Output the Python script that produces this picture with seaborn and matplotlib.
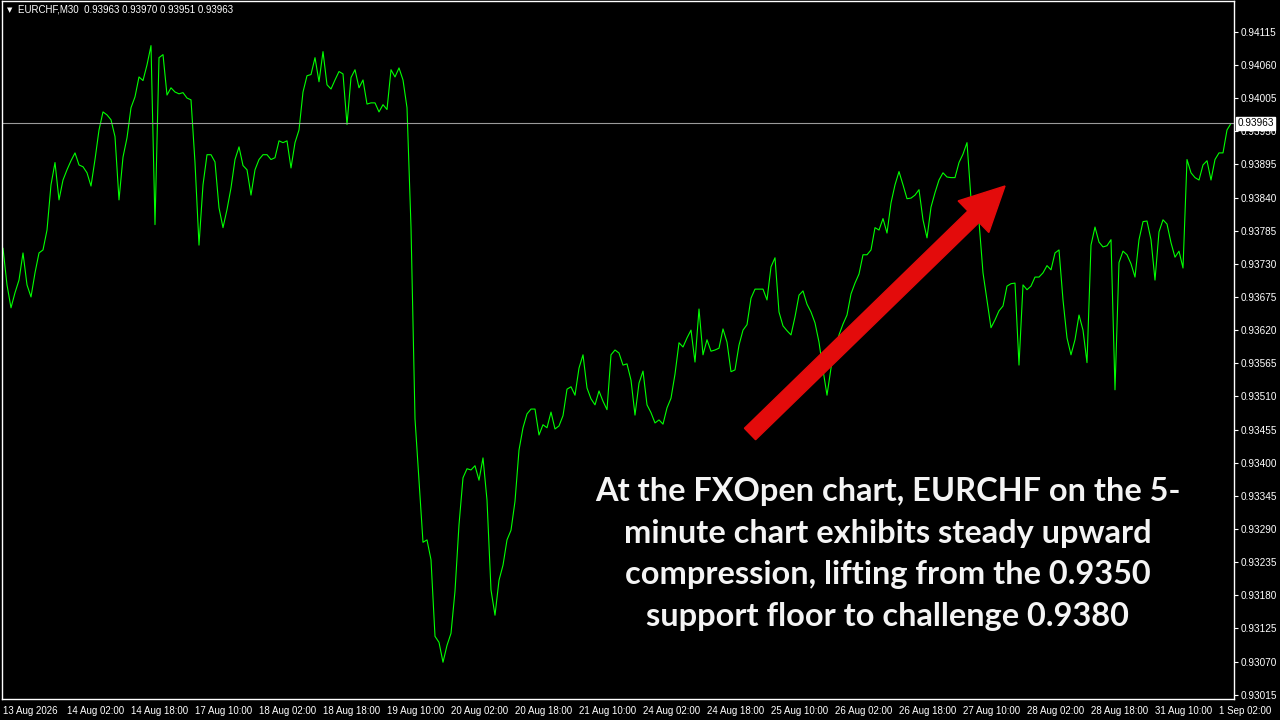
import matplotlib
matplotlib.use("Agg")
import matplotlib.pyplot as plt
from matplotlib.patches import FancyArrow
import pandas as pd
import seaborn as sns

# EURCHF M30 closes, one reading every 2 bars
close = [
    0.93756, 0.93695, 0.93657, 0.93682, 0.93703, 0.93748, 0.93695, 0.93675, 0.93715, 0.93748,
    0.93753, 0.93786, 0.93861, 0.93898, 0.93836, 0.93869, 0.93886, 0.93901, 0.93914, 0.93894,
    0.93891, 0.93881, 0.93859, 0.93903, 0.93952, 0.93982, 0.93977, 0.93969, 0.93941, 0.93836,
    0.93907, 0.93939, 0.93989, 0.94007, 0.94040, 0.94034, 0.94060, 0.94092, 0.93795, 0.94072,
    0.94077, 0.94010, 0.94022, 0.94015, 0.94012, 0.94014, 0.94005, 0.94002, 0.93898, 0.93761,
    0.93861, 0.93911, 0.93911, 0.93899, 0.93823, 0.93790, 0.93820, 0.93856, 0.93903, 0.93924,
    0.93893, 0.93886, 0.93844, 0.93886, 0.93903, 0.93911, 0.93911, 0.93903, 0.93906, 0.93934,
    0.93931, 0.93934, 0.93889, 0.93931, 0.93952, 0.94015, 0.94042, 0.94044, 0.94072, 0.94032,
    0.94082, 0.94027, 0.94020, 0.94035, 0.94049, 0.94045, 0.93961, 0.94039, 0.94052, 0.94022,
    0.94035, 0.93995, 0.93997, 0.93997, 0.93982, 0.93994, 0.93986, 0.94052, 0.94040, 0.94055,
    0.94035, 0.93989, 0.93791, 0.93473, 0.93371, 0.93268, 0.93272, 0.93239, 0.93112, 0.93102,
    0.93069, 0.93097, 0.93117, 0.93187, 0.93297, 0.93375, 0.93390, 0.93388, 0.93395, 0.93371,
    0.93408, 0.93338, 0.93189, 0.93147, 0.93205, 0.93230, 0.93272, 0.93288, 0.93336, 0.93421,
    0.93458, 0.93481, 0.93489, 0.93489, 0.93446, 0.93463, 0.93458, 0.93484, 0.93456, 0.93461,
    0.93478, 0.93522, 0.93526, 0.93512, 0.93557, 0.93579, 0.93524, 0.93506, 0.93496, 0.93519,
    0.93502, 0.93488, 0.93579, 0.93587, 0.93582, 0.93562, 0.93564, 0.93537, 0.93479, 0.93532,
    0.93552, 0.93496, 0.93483, 0.93466, 0.93471, 0.93464, 0.93491, 0.93507, 0.93547, 0.93599,
    0.93592, 0.93607, 0.93620, 0.93567, 0.93655, 0.93579, 0.93604, 0.93585, 0.93587, 0.93590,
    0.93622, 0.93600, 0.93551, 0.93554, 0.93595, 0.93620, 0.93629, 0.93673, 0.93688, 0.93688,
    0.93688, 0.93670, 0.93725, 0.93740, 0.93650, 0.93627, 0.93619, 0.93612, 0.93642, 0.93678,
    0.93685, 0.93663, 0.93650, 0.93632, 0.93600, 0.93554, 0.93512, 0.93557, 0.93587, 0.93612,
    0.93630, 0.93645, 0.93680, 0.93698, 0.93713, 0.93745, 0.93745, 0.93753, 0.93790, 0.93786,
    0.93805, 0.93781, 0.93831, 0.93861, 0.93883, 0.93861, 0.93838, 0.93839, 0.93844, 0.93853,
    0.93803, 0.93773, 0.93824, 0.93848, 0.93869, 0.93881, 0.93874, 0.93873, 0.93873, 0.93898,
    0.93912, 0.93931, 0.93838, 0.93836, 0.93800, 0.93715, 0.93670, 0.93624, 0.93637, 0.93652,
    0.93660, 0.93693, 0.93697, 0.93698, 0.93562, 0.93695, 0.93687, 0.93693, 0.93708, 0.93708,
    0.93715, 0.93727, 0.93720, 0.93748, 0.93753, 0.93670, 0.93607, 0.93579, 0.93604, 0.93645,
    0.93620, 0.93566, 0.93761, 0.93791, 0.93766, 0.93758, 0.93760, 0.93770, 0.93521, 0.93732,
    0.93751, 0.93745, 0.93730, 0.93708, 0.93770, 0.93800, 0.93801, 0.93770, 0.93703, 0.93783,
    0.93803, 0.93796, 0.93765, 0.93741, 0.93751, 0.93723, 0.93903, 0.93881, 0.93873, 0.93869,
    0.93894, 0.93901, 0.93869, 0.93903, 0.93914, 0.93914, 0.93952, 0.93963,
]
bar = [2 * i for i in range(len(close))]

tick_bars = [0, 32, 64, 96, 128, 160, 192, 224, 256, 288,
             320, 352, 384, 416, 448, 480, 512, 544, 576, 608]
tick_labels = ["13 Aug 2026", "14 Aug 02:00", "14 Aug 18:00", "17 Aug 10:00",
               "18 Aug 02:00", "18 Aug 18:00", "19 Aug 10:00", "20 Aug 02:00",
               "20 Aug 18:00", "21 Aug 10:00", "24 Aug 02:00", "24 Aug 18:00",
               "25 Aug 10:00", "26 Aug 02:00", "26 Aug 18:00", "27 Aug 10:00",
               "28 Aug 02:00", "28 Aug 18:00", "31 Aug 10:00", "1 Sep 02:00"]
price_ticks = [0.93015, 0.93070, 0.93125, 0.93180, 0.93235, 0.93290, 0.93345,
               0.93400, 0.93455, 0.93510, 0.93565, 0.93620, 0.93675, 0.93730,
               0.93785, 0.93840, 0.93895, 0.93950, 0.94005, 0.94060, 0.94115]
last_price = 0.93963
header = "EURCHF,M30  0.93963 0.93970 0.93951 0.93963"
note = ("At the FXOpen chart, EURCHF on the 5-\n"
        "minute chart exhibits steady upward\n"
        "compression, lifting from the 0.9350\n"
        "support floor to challenge 0.9380")

sns.set_theme(style="dark")
plt.rcParams["font.family"] = ["Liberation Sans", "DejaVu Sans"]

fig = plt.figure(figsize=(12.8, 7.2), dpi=100, facecolor="black")
ax = fig.add_axes([2 / 1280, 21 / 720, 1232 / 1280, 698 / 720])
ax.set_facecolor("black")

df = pd.DataFrame({"bar": bar, "close": close})
sns.lineplot(data=df, x="bar", y="close", ax=ax, color="#00ff00",
             linewidth=0.8, estimator=None)

ax.axhline(last_price, color="#9a9a9a", linewidth=0.8)

ax.set_xlim(-0.5, 615.5)
ax.set_ylim(0.93008, 0.94166)
ax.grid(False)
ax.set_xlabel("")
ax.set_ylabel("")

ax.set_xticks(tick_bars)
ax.set_xticklabels(tick_labels, ha="left")
ax.yaxis.tick_right()
ax.set_yticks(price_ticks)
ax.set_yticklabels([f"{p:.5f}" for p in price_ticks])
ax.tick_params(axis="x", direction="out", length=3, width=0.8, color="white",
               labelcolor="white", labelsize=7, pad=2)
ax.tick_params(axis="y", direction="out", length=3, width=0.8, color="white",
               labelcolor="white", labelsize=7.2, pad=2)
for s in ax.spines.values():
    s.set_color("white")
    s.set_linewidth(1)

ax.text(1.003, last_price, f"{last_price:.5f}", transform=ax.get_yaxis_transform(),
        ha="left", va="center", fontsize=7.2, color="black",
        bbox=dict(boxstyle="square,pad=0.12", facecolor="white", edgecolor="white"))

fig.text(7 / 1280, 1 - 10 / 720, "\u25bc", color="white", fontsize=5,
         va="center", ha="left", family="DejaVu Sans")
fig.text(18 / 1280, 1 - 10 / 720, header, color="white", fontsize=7,
         va="center", ha="left")

arrow = FancyArrow(7.50, 2.86, 2.55, 2.48, width=0.16, head_width=0.44,
                   head_length=0.44, length_includes_head=True,
                   color="#e30b0b", transform=fig.dpi_scale_trans)
fig.patches.append(arrow)

fig.text(888 / 1280, 1 - 554 / 720, note, color="#f4f4f4", fontsize=23.4,
         fontweight="bold", family="Lato", ha="center", va="center",
         multialignment="center", linespacing=1.53)

fig.savefig("out.png", dpi=100, facecolor="black")
